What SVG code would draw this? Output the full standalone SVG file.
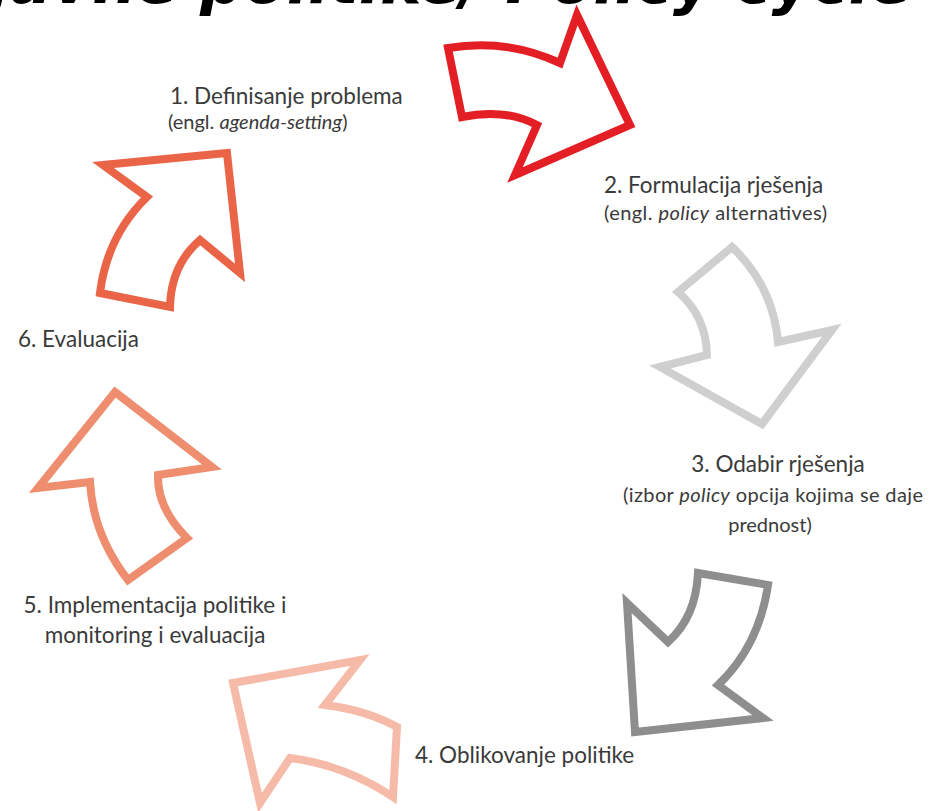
<svg xmlns="http://www.w3.org/2000/svg" width="931" height="811" viewBox="0 0 931 811">
<style>
.arrow{fill:#ffffff;stroke-width:8;stroke-linejoin:miter;stroke-miterlimit:10}
.lbl{font-family:Lato,"Open Sans","Liberation Sans",sans-serif;fill:#3a3a3a;font-size:22.5px}
.sub{font-family:Lato,"Open Sans","Liberation Sans",sans-serif;fill:#3a3a3a;font-size:20px}
.title{font-family:"DejaVu Sans","Liberation Sans",sans-serif;font-weight:bold;font-style:italic;font-size:62px;fill:#000}
</style>
<rect width="931" height="811" fill="#ffffff"/>
<text class="title" x="-75" y="3">e javne politike/ Policy cycle</text>
<g id="connectors">
<path id="arrow1" class="arrow" stroke="#e31e24" d="M448,48 Q506,38 560,63 L577,15 L630,125 L515,175 L537,125 Q505,108 462,117 Z"/>
<path id="arrow2" class="arrow" stroke="#cfcfcf" d="M732,247 Q773,286 778,342 L832,330 L762,424 L660,367 L707,355 Q706,316 678,292 Z"/>
<path id="arrow3" class="arrow" stroke="#8e8e8e" d="M698,573 L768,585 Q759,646 718,685 L763,718 L635,732 L627,603 L668,642 Q696,617 698,573 Z"/>
<path id="arrow4" class="arrow" stroke="#f5bba8" d="M233,683 L360,660 L325,705 Q366,710 397,727 L393,797 Q345,765 290,758 L260,803 Z"/>
<path id="arrow5" class="arrow" stroke="#ef8d6f" d="M115,392 L212,467 L158,475 Q157,508 187,538 L128,580 Q93,535 90,482 L38,488 Z"/>
<path id="arrow6" class="arrow" stroke="#ea6447" d="M227,153 L103,165 L147,197 Q107,236 100,293 L170,307 Q171,265 200,240 L240,273 Z"/>
</g>
<g id="node1">
<text class="lbl" x="170" y="104">1. Definisanje problema</text>
<text class="sub" x="168" y="129">(engl. <tspan font-style="italic">agenda-setting</tspan>)</text>
</g>
<g id="node2">
<text class="lbl" x="604" y="193">2. Formulacija rješenja</text>
<text class="sub" x="604" y="220" textLength="223">(engl. <tspan font-style="italic">policy</tspan> alternatives)</text>
</g>
<g id="node3">
<text class="lbl" x="778" y="472" text-anchor="middle">3. Odabir rješenja</text>
<text class="sub" x="773" y="502" text-anchor="middle" textLength="300">(izbor <tspan font-style="italic">policy</tspan> opcija kojima se daje</text>
<text class="sub" x="770" y="532" text-anchor="middle">prednost)</text>
</g>
<g id="node4">
<text class="lbl" x="415" y="763">4. Oblikovanje politike</text>
</g>
<g id="node5">
<text class="lbl" x="155" y="613" text-anchor="middle">5. Implementacija politike i</text>
<text class="lbl" x="155" y="643" text-anchor="middle">monitoring i evaluacija</text>
</g>
<g id="node6">
<text class="lbl" x="18" y="347">6. Evaluacija</text>
</g>
</svg>
